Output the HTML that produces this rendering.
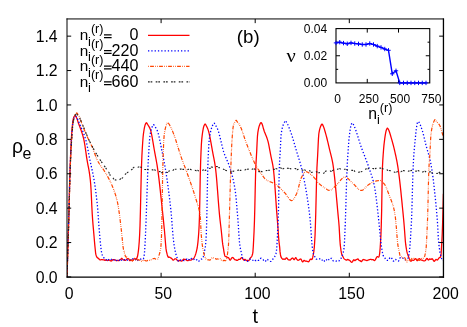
<!DOCTYPE html>
<html><head><meta charset="utf-8"><title>plot</title>
<style>html,body{margin:0;padding:0;background:#fff;overflow:hidden}body{width:467px;height:327px;position:relative;font-family:"Liberation Sans",sans-serif}</style>
</head><body>
<svg width="467" height="327" viewBox="0 0 467 327" style="position:absolute;left:0;top:0;will-change:transform">
<rect width="467" height="327" fill="#fff"/>
<defs><clipPath id="c"><rect x="67.00" y="18.95" width="377.00" height="258.00"/></clipPath></defs>
<g clip-path="url(#c)" fill="none" stroke-linejoin="round">
<path d="M67.00 276.95L67.38 265.01L67.75 252.87L68.13 239.95L68.51 226.86L68.88 213.18L69.26 198.07L69.63 183.13L70.01 170.31L70.39 159.89L70.76 150.95L71.14 143.48L71.52 136.66L71.89 130.82L72.27 126.45L72.65 123.16L73.02 120.41L73.40 118.45L73.78 117.40L74.15 116.60L74.53 116.00L74.90 115.66L75.28 115.67L75.66 116.06L76.03 116.71L76.41 117.47L76.79 118.26L77.16 119.25L77.54 120.40L77.92 121.58L78.29 122.70L78.67 123.76L79.04 124.79L79.42 125.79L79.80 126.79L80.17 127.78L80.55 128.79L80.93 129.81L81.30 130.87L81.68 131.97L82.06 133.12L82.43 134.33L82.81 135.62L83.19 136.99L83.56 138.46L83.94 140.04L84.31 141.87L84.69 144.05L85.07 146.49L85.44 149.09L85.82 151.78L86.20 154.46L86.57 157.04L86.95 159.44L87.33 161.60L87.70 163.60L88.08 165.53L88.45 167.47L88.83 169.49L89.21 171.70L89.58 174.16L89.96 176.97L90.34 180.20L90.71 184.25L91.09 190.55L91.47 198.32L91.84 206.43L92.22 213.75L92.60 219.37L92.97 224.11L93.35 228.42L93.72 232.64L94.10 237.07L94.48 241.50L94.85 245.64L95.23 249.21L95.61 253.05L95.98 254.74L96.36 255.98L96.74 256.91L97.11 257.52L97.49 257.88L97.86 258.04L98.24 258.13L98.62 258.46L98.99 259.00L99.37 259.51L99.75 259.77L100.12 259.80L100.50 259.78L100.88 259.76L101.25 259.70L101.63 259.58L102.01 259.53L102.38 259.61L102.76 259.78L103.13 259.92L103.51 259.93L103.89 259.86L104.26 259.89L104.64 260.12L105.02 260.38L105.39 260.35L105.77 260.05L106.15 259.81L106.52 259.90L106.90 260.20L107.27 260.45L107.65 260.52L108.03 260.42L108.40 260.23L108.78 260.06L109.16 260.01L109.53 260.14L109.91 260.39L110.29 260.67L110.66 260.88L111.04 260.99L111.42 260.95L111.79 260.71L112.17 260.31L112.54 259.87L112.92 259.58L113.30 259.52L113.67 259.59L114.05 259.69L114.43 259.76L114.80 259.82L115.18 259.94L115.56 260.13L115.93 260.39L116.31 260.64L116.68 260.75L117.06 260.64L117.44 260.40L117.81 260.29L118.19 260.42L118.57 260.64L118.94 260.67L119.32 260.45L119.70 260.12L120.07 259.83L120.45 259.53L120.83 259.12L121.20 258.65L121.58 258.35L121.95 258.41L122.33 258.82L122.71 259.33L123.08 259.70L123.46 259.87L123.84 259.97L124.21 260.10L124.59 260.28L124.97 260.41L125.34 260.41L125.72 260.23L126.09 259.85L126.47 259.35L126.85 258.94L127.22 258.72L127.60 258.61L127.98 258.54L128.35 258.63L128.73 259.06L129.11 259.76L129.48 260.39L129.86 260.70L130.24 260.64L130.61 260.32L130.99 259.99L131.36 259.94L131.74 260.25L132.12 260.66L132.49 260.80L132.87 260.52L133.25 260.00L133.62 259.49L134.00 259.07L134.38 258.73L134.75 258.53L135.13 258.65L135.50 259.06L135.88 259.35L136.26 259.26L136.63 258.73L137.01 257.88L137.39 256.81L137.76 255.10L138.14 252.77L138.52 249.90L138.89 245.99L139.27 241.19L139.65 234.46L140.02 225.56L140.40 211.76L140.77 195.15L141.15 178.57L141.53 164.87L141.90 156.05L142.28 148.87L142.66 142.74L143.03 137.80L143.41 134.19L143.79 131.47L144.16 129.12L144.54 127.15L144.91 125.58L145.29 124.43L145.67 123.61L146.04 122.94L146.42 122.67L146.80 122.99L147.17 123.69L147.55 124.36L147.93 124.94L148.30 125.50L148.68 126.08L149.06 126.70L149.43 127.38L149.81 128.15L150.18 129.03L150.56 130.13L150.94 131.49L151.31 133.09L151.69 134.89L152.07 136.85L152.44 138.93L152.82 141.11L153.20 143.34L153.57 145.59L153.95 147.82L154.32 149.99L154.70 152.08L155.08 154.09L155.45 156.07L155.83 158.07L156.21 160.12L156.58 162.24L156.96 164.46L157.34 166.83L157.71 169.36L158.09 172.07L158.47 174.94L158.84 177.94L159.22 181.08L159.59 184.32L159.97 187.66L160.35 191.09L160.72 194.58L161.10 198.12L161.48 201.69L161.85 205.29L162.23 208.90L162.61 212.49L162.98 216.06L163.36 219.68L163.73 223.40L164.11 227.19L164.49 231.03L164.86 235.30L165.24 240.02L165.62 244.59L165.99 248.39L166.37 251.07L166.75 252.65L167.12 254.17L167.50 255.56L167.88 256.62L168.25 257.19L168.63 257.32L169.00 257.22L169.38 257.14L169.76 257.27L170.13 257.56L170.51 257.85L170.89 258.01L171.26 258.11L171.64 258.35L172.02 258.85L172.39 259.45L172.77 259.94L173.14 260.16L173.52 260.09L173.90 259.79L174.27 259.38L174.65 259.03L175.03 258.82L175.40 258.76L175.78 258.83L176.16 259.04L176.53 259.42L176.91 259.92L177.29 260.40L177.66 260.76L178.04 260.97L178.41 261.01L178.79 260.87L179.17 260.60L179.54 260.37L179.92 260.36L180.30 260.56L180.67 260.81L181.05 261.00L181.43 261.09L181.80 261.07L182.18 260.85L182.55 260.39L182.93 259.78L183.31 259.26L183.68 259.05L184.06 259.17L184.44 259.45L184.81 259.61L185.19 259.57L185.57 259.45L185.94 259.48L186.32 259.79L186.70 260.23L187.07 260.58L187.45 260.73L187.82 260.72L188.20 260.58L188.58 260.33L188.95 260.05L189.33 259.90L189.71 259.92L190.08 260.01L190.46 260.06L190.84 260.05L191.21 260.01L191.59 259.85L191.96 259.57L192.34 259.26L192.72 258.96L193.09 258.72L193.47 258.48L193.85 258.10L194.22 257.54L194.60 256.78L194.98 255.89L195.35 254.94L195.73 253.90L196.11 252.61L196.48 251.05L196.86 249.30L197.23 247.74L197.61 244.96L197.99 241.57L198.36 237.56L198.74 232.72L199.12 225.69L199.49 216.06L199.87 198.03L200.25 175.95L200.62 162.39L201.00 152.36L201.37 144.52L201.75 139.35L202.13 135.93L202.50 132.99L202.88 130.53L203.26 128.52L203.63 126.95L204.01 125.81L204.39 124.98L204.76 124.31L205.14 124.04L205.52 124.36L205.89 125.05L206.27 125.75L206.64 126.44L207.02 127.17L207.40 127.97L207.77 128.87L208.15 129.89L208.53 131.08L208.90 132.47L209.28 134.04L209.66 135.76L210.03 137.61L210.41 139.56L210.78 141.59L211.16 143.68L211.54 145.80L211.91 147.93L212.29 150.03L212.67 152.10L213.04 154.10L213.42 156.02L213.80 157.93L214.17 159.89L214.55 161.97L214.93 164.22L215.30 166.72L215.68 169.56L216.05 172.98L216.43 176.93L216.81 181.30L217.18 185.96L217.56 190.82L217.94 195.76L218.31 200.68L218.69 205.45L219.07 209.98L219.44 214.15L219.82 217.87L220.19 221.28L220.57 224.51L220.95 227.72L221.32 231.03L221.70 234.71L222.08 238.60L222.45 242.19L222.83 244.96L223.21 247.10L223.58 249.13L223.96 251.81L224.34 253.84L224.71 255.41L225.09 256.32L225.46 256.61L225.84 256.55L226.22 256.48L226.59 256.77L226.97 257.27L227.35 257.65L227.72 257.72L228.10 257.62L228.48 257.70L228.85 258.17L229.23 258.91L229.60 259.64L229.98 260.05L230.36 260.02L230.73 259.59L231.11 258.93L231.49 258.28L231.86 257.79L232.24 257.52L232.62 257.47L232.99 257.64L233.37 258.00L233.75 258.48L234.12 258.99L234.50 259.41L234.87 259.68L235.25 259.81L235.63 259.87L236.00 259.95L236.38 260.13L236.76 260.35L237.13 260.47L237.51 260.35L237.89 260.00L238.26 259.61L238.64 259.37L239.01 259.34L239.39 259.43L239.77 259.45L240.14 259.23L240.52 258.78L240.90 258.23L241.27 257.79L241.65 257.61L242.03 257.74L242.40 258.14L242.78 258.76L243.16 259.46L243.53 259.96L243.91 260.05L244.28 259.78L244.66 259.46L245.04 259.37L245.41 259.59L245.79 259.98L246.17 260.38L246.54 260.60L246.92 260.58L247.30 260.41L247.67 260.28L248.05 260.35L248.42 260.55L248.80 260.56L249.18 260.16L249.55 259.45L249.93 258.66L250.31 258.02L250.68 257.62L251.06 257.31L251.44 256.89L251.81 256.19L252.19 255.22L252.57 253.96L252.94 251.79L253.32 246.19L253.69 239.07L254.07 231.28L254.45 221.31L254.82 207.70L255.20 189.95L255.58 173.75L255.95 164.11L256.33 157.96L256.71 151.13L257.08 142.94L257.46 136.06L257.83 132.68L258.21 130.36L258.59 128.46L258.96 126.91L259.34 125.67L259.72 124.67L260.09 123.84L260.47 123.08L260.85 122.57L261.22 122.57L261.60 123.09L261.98 123.85L262.35 124.73L262.73 125.95L263.10 127.36L263.48 128.79L263.86 130.06L264.23 131.16L264.61 132.16L264.99 133.11L265.36 134.03L265.74 134.93L266.12 135.84L266.49 136.78L266.87 137.79L267.24 138.88L267.62 140.08L268.00 141.42L268.37 142.97L268.75 144.70L269.13 146.57L269.50 148.54L269.88 150.56L270.26 152.60L270.63 154.61L271.01 156.55L271.39 158.35L271.76 160.04L272.14 161.74L272.51 163.57L272.89 165.64L273.27 168.07L273.64 171.14L274.02 174.95L274.40 179.37L274.77 184.27L275.15 189.50L275.53 194.94L275.90 200.45L276.28 205.90L276.65 211.15L277.03 216.06L277.41 220.66L277.78 225.35L278.16 230.85L278.54 236.56L278.91 241.00L279.29 244.21L279.67 247.15L280.04 251.64L280.42 254.38L280.80 256.32L281.17 257.41L281.55 257.98L281.92 258.43L282.30 258.83L282.68 259.16L283.05 259.30L283.43 259.20L283.81 259.01L284.18 258.99L284.56 259.19L284.94 259.36L285.31 259.18L285.69 258.66L286.06 258.11L286.44 257.81L286.82 257.89L287.19 258.31L287.57 258.93L287.95 259.53L288.32 259.84L288.70 259.87L289.08 259.85L289.45 259.96L289.83 260.10L290.21 260.04L290.58 259.71L290.96 259.25L291.33 258.80L291.71 258.43L292.09 258.13L292.46 257.99L292.84 258.15L293.22 258.64L293.59 259.27L293.97 259.68L294.35 259.62L294.72 259.05L295.10 258.28L295.47 257.74L295.85 257.73L296.23 258.20L296.60 258.87L296.98 259.50L297.36 259.94L297.73 260.17L298.11 260.25L298.49 260.23L298.86 260.10L299.24 259.83L299.62 259.48L299.99 259.18L300.37 259.01L300.74 259.04L301.12 259.34L301.50 259.98L301.87 260.84L302.25 261.61L302.63 261.94L303.00 261.69L303.38 261.07L303.76 260.53L304.13 260.38L304.51 260.57L304.88 260.88L305.26 261.10L305.64 261.21L306.01 261.24L306.39 261.20L306.77 261.17L307.14 261.26L307.52 261.49L307.90 261.71L308.27 261.79L308.65 261.68L309.03 261.35L309.40 260.75L309.78 259.96L310.15 259.28L310.53 259.03L310.91 259.16L311.28 259.45L311.66 259.57L312.04 259.34L312.41 258.58L312.79 257.19L313.17 255.34L313.54 253.16L313.92 250.78L314.29 247.34L314.67 242.07L315.05 235.33L315.42 224.78L315.80 211.65L316.18 195.74L316.55 179.96L316.93 168.07L317.31 161.14L317.68 154.78L318.06 146.69L318.44 138.90L318.81 134.02L319.19 131.70L319.56 129.83L319.94 128.34L320.32 127.16L320.69 126.20L321.07 125.39L321.45 124.63L321.82 124.12L322.20 124.12L322.58 124.65L322.95 125.40L323.33 126.19L323.70 127.13L324.08 128.22L324.46 129.42L324.83 130.70L325.21 132.02L325.59 133.36L325.96 134.68L326.34 136.06L326.72 137.51L327.09 139.00L327.47 140.54L327.85 142.11L328.22 143.70L328.60 145.31L328.97 146.92L329.35 148.53L329.73 150.11L330.10 151.63L330.48 153.11L330.86 154.58L331.23 156.09L331.61 157.67L331.99 159.36L332.36 161.19L332.74 163.20L333.11 165.45L333.49 168.05L333.87 170.97L334.24 174.18L334.62 177.64L335.00 181.32L335.37 185.18L335.75 189.18L336.13 193.28L336.50 197.45L336.88 201.65L337.26 205.85L337.63 210.00L338.01 214.07L338.38 218.01L338.76 221.99L339.14 226.66L339.51 233.25L339.89 240.17L340.27 244.96L340.64 247.72L341.02 250.66L341.40 252.95L341.77 254.46L342.15 255.36L342.52 255.98L342.90 256.54L343.28 257.28L343.65 258.02L344.03 258.61L344.41 259.00L344.78 259.25L345.16 259.45L345.54 259.68L345.91 259.92L346.29 260.11L346.67 260.12L347.04 259.92L347.42 259.61L347.79 259.45L348.17 259.57L348.55 259.87L348.92 260.08L349.30 260.16L349.68 260.32L350.05 260.71L350.43 261.23L350.81 261.70L351.18 262.04L351.56 262.24L351.93 262.26L352.31 261.99L352.69 261.40L353.06 260.63L353.44 260.00L353.82 259.77L354.19 259.97L354.57 260.36L354.95 260.58L355.32 260.42L355.70 260.01L356.08 259.64L356.45 259.50L356.83 259.49L357.20 259.35L357.58 259.07L357.96 258.91L358.33 259.18L358.71 259.81L359.09 260.40L359.46 260.63L359.84 260.62L360.22 260.71L360.59 261.07L360.97 261.53L361.34 261.71L361.72 261.40L362.10 260.78L362.47 260.19L362.85 259.83L363.23 259.61L363.60 259.50L363.98 259.55L364.36 259.74L364.73 259.96L365.11 260.07L365.49 260.12L365.86 260.22L366.24 260.38L366.61 260.53L366.99 260.57L367.37 260.46L367.74 260.27L368.12 260.07L368.50 259.93L368.87 259.82L369.25 259.72L369.63 259.60L370.00 259.49L370.38 259.41L370.75 259.38L371.13 259.46L371.51 259.62L371.88 259.75L372.26 259.71L372.64 259.56L373.01 259.53L373.39 259.77L373.77 260.18L374.14 260.50L374.52 260.55L374.90 260.29L375.27 259.79L375.65 259.13L376.02 258.40L376.40 257.68L376.78 257.07L377.15 256.65L377.53 256.57L377.91 256.81L378.28 257.14L378.66 257.16L379.04 256.52L379.41 255.18L379.79 252.21L380.16 248.01L380.54 242.27L380.92 235.34L381.29 224.89L381.67 209.69L382.05 186.10L382.42 168.07L382.80 160.35L383.18 154.83L383.55 149.71L383.93 145.38L384.31 142.11L384.68 139.15L385.06 136.43L385.43 134.04L385.81 132.04L386.19 130.51L386.56 129.51L386.94 128.74L387.32 128.24L387.69 128.25L388.07 128.78L388.45 129.53L388.82 130.31L389.20 131.24L389.57 132.32L389.95 133.50L390.33 134.75L390.70 136.04L391.08 137.33L391.46 138.61L391.83 139.91L392.21 141.24L392.59 142.60L392.96 144.00L393.34 145.44L393.72 146.92L394.09 148.44L394.47 150.00L394.84 151.62L395.22 153.28L395.60 154.99L395.97 156.74L396.35 158.56L396.73 160.46L397.10 162.47L397.48 164.60L397.86 166.88L398.23 169.32L398.61 171.97L398.98 174.83L399.36 177.86L399.74 181.05L400.11 184.39L400.49 187.86L400.87 191.43L401.24 195.09L401.62 198.83L402.00 202.62L402.37 206.45L402.75 210.30L403.13 214.14L403.50 218.02L403.88 222.14L404.25 226.47L404.63 231.46L405.01 236.72L405.38 241.47L405.76 244.96L406.14 247.46L406.51 249.71L406.89 251.66L407.27 253.14L407.64 254.25L408.02 255.22L408.39 256.18L408.77 257.20L409.15 258.25L409.52 259.17L409.90 259.93L410.28 260.58L410.65 261.05L411.03 261.18L411.41 260.97L411.78 260.57L412.16 260.23L412.54 260.11L412.91 260.17L413.29 260.27L413.66 260.27L414.04 260.09L414.42 259.68L414.79 259.15L415.17 258.71L415.55 258.53L415.92 258.75L416.30 259.34L416.68 260.09L417.05 260.64L417.43 260.71L417.80 260.34L418.18 259.76L418.56 259.20L418.93 258.82L419.31 258.69L419.69 258.82L420.06 259.14L420.44 259.53L420.82 259.85L421.19 260.02L421.57 260.06L421.95 260.10L422.32 260.22L422.70 260.43L423.07 260.63L423.45 260.77L423.83 260.84L424.20 260.86L424.58 260.84L424.96 260.75L425.33 260.50L425.71 260.01L426.09 259.35L426.46 258.75L426.84 258.44L427.21 258.53L427.59 258.99L427.97 259.60L428.34 259.99L428.72 259.92L429.10 259.48L429.47 259.02L429.85 258.84L430.23 259.03L430.60 259.36L430.98 259.47L431.36 259.21L431.73 258.81L432.11 258.66L432.48 258.95L432.86 259.54L433.24 260.21L433.61 260.80L433.99 261.21L434.37 261.29L434.74 260.99L435.12 260.43L435.50 259.86L435.87 259.49L436.25 259.47L436.62 259.71L437.00 259.98L437.38 260.03L437.75 259.74L438.13 259.20L438.51 258.63L438.88 258.12L439.26 257.72L439.64 257.46L440.01 257.31L440.39 257.11L440.77 256.31L441.14 253.40L441.52 246.41L441.89 241.00L442.27 233.08L442.65 222.09L443.02 209.22L443.40 193.70" stroke="#ff0000" stroke-width="1.28"/>
<path d="M67.00 276.95L67.38 264.66L67.75 252.26L68.13 239.95L68.51 226.86L68.88 213.14L69.26 197.84L69.63 182.82L70.01 170.31L70.39 160.64L70.76 152.44L71.14 145.41L71.52 138.90L71.89 133.04L72.27 128.28L72.65 124.86L73.02 121.99L73.40 119.74L73.78 118.37L74.15 117.58L74.53 116.91L74.90 116.43L75.28 116.17L75.66 116.17L76.03 116.46L76.41 116.96L76.79 117.57L77.16 118.19L77.54 118.90L77.92 119.77L78.29 120.72L78.67 121.68L79.04 122.60L79.42 123.49L79.80 124.37L80.17 125.23L80.55 126.08L80.93 126.94L81.30 127.79L81.68 128.66L82.06 129.53L82.43 130.42L82.81 131.34L83.19 132.28L83.56 133.25L83.94 134.26L84.31 135.32L84.69 136.42L85.07 137.57L85.44 138.77L85.82 140.04L86.20 141.43L86.57 142.99L86.95 144.68L87.33 146.50L87.70 148.40L88.08 150.36L88.45 152.35L88.83 154.36L89.21 156.35L89.58 158.29L89.96 160.16L90.34 161.96L90.71 163.69L91.09 165.39L91.47 167.08L91.84 168.77L92.22 170.50L92.60 172.27L92.97 174.11L93.35 176.05L93.72 178.10L94.10 180.29L94.48 182.59L94.85 185.01L95.23 187.55L95.61 190.23L95.98 193.07L96.36 196.09L96.74 199.32L97.11 202.75L97.49 206.43L97.86 210.85L98.24 216.13L98.62 221.71L98.99 227.03L99.37 231.57L99.75 235.88L100.12 240.12L100.50 244.06L100.88 247.49L101.25 250.55L101.63 252.63L102.01 254.23L102.38 255.41L102.76 256.24L103.13 256.81L103.51 257.28L103.89 257.75L104.26 258.32L104.64 258.87L105.02 259.19L105.39 259.30L105.77 259.40L106.15 259.70L106.52 260.17L106.90 260.66L107.27 260.98L107.65 260.95L108.03 260.55L108.40 259.96L108.78 259.43L109.16 259.14L109.53 259.06L109.91 258.98L110.29 258.87L110.66 258.86L111.04 259.12L111.42 259.60L111.79 260.08L112.17 260.35L112.54 260.42L112.92 260.39L113.30 260.35L113.67 260.23L114.05 259.95L114.43 259.58L114.80 259.32L115.18 259.32L115.56 259.59L115.93 259.98L116.31 260.31L116.68 260.45L117.06 260.37L117.44 260.12L117.81 259.77L118.19 259.46L118.57 259.39L118.94 259.67L119.32 260.22L119.70 260.81L120.07 261.20L120.45 261.25L120.83 261.00L121.20 260.53L121.58 259.98L121.95 259.52L122.33 259.25L122.71 259.25L123.08 259.46L123.46 259.68L123.84 259.78L124.21 259.77L124.59 259.76L124.97 259.89L125.34 260.17L125.72 260.43L126.09 260.46L126.47 260.24L126.85 260.02L127.22 259.99L127.60 260.11L127.98 260.11L128.35 259.81L128.73 259.35L129.11 259.03L129.48 259.07L129.86 259.43L130.24 259.85L130.61 260.07L130.99 260.00L131.36 259.77L131.74 259.51L132.12 259.21L132.49 258.94L132.87 258.85L133.25 259.07L133.62 259.48L134.00 259.87L134.38 260.07L134.75 260.05L135.13 259.87L135.50 259.67L135.88 259.64L136.26 259.91L136.63 260.44L137.01 260.91L137.39 260.96L137.76 260.53L138.14 259.93L138.52 259.50L138.89 259.31L139.27 259.24L139.65 259.22L140.02 259.22L140.40 259.20L140.77 259.08L141.15 258.86L141.53 258.65L141.90 258.55L142.28 258.57L142.66 258.73L143.03 258.87L143.41 258.76L143.79 257.66L144.16 255.27L144.54 251.98L144.91 246.88L145.29 239.27L145.67 230.51L146.04 221.21L146.42 210.64L146.80 199.40L147.17 188.10L147.55 177.36L147.93 167.79L148.30 159.99L148.68 153.35L149.06 147.10L149.43 141.58L149.81 137.15L150.18 134.19L150.56 132.24L150.94 130.60L151.31 129.23L151.69 128.09L152.07 127.12L152.44 126.30L152.82 125.53L153.20 124.85L153.57 124.56L153.95 124.89L154.32 125.59L154.70 126.25L155.08 126.82L155.45 127.38L155.83 127.94L156.21 128.54L156.58 129.19L156.96 129.92L157.34 130.75L157.71 131.74L158.09 132.93L158.47 134.30L158.84 135.81L159.22 137.45L159.59 139.19L159.97 141.01L160.35 142.89L160.72 144.80L161.10 146.71L161.48 148.62L161.85 150.48L162.23 152.29L162.61 154.10L162.98 155.93L163.36 157.78L163.73 159.69L164.11 161.66L164.49 163.70L164.86 165.84L165.24 168.07L165.62 170.39L165.99 172.73L166.37 175.12L166.75 177.56L167.12 180.07L167.50 182.64L167.88 185.30L168.25 188.04L168.63 190.87L169.00 193.81L169.38 196.86L169.76 200.04L170.13 203.34L170.51 206.79L170.89 210.38L171.26 214.13L171.64 218.24L172.02 223.46L172.39 228.75L172.77 233.08L173.14 237.03L173.52 240.63L173.90 243.69L174.27 246.12L174.65 248.37L175.03 250.13L175.40 252.07L175.78 253.63L176.16 254.97L176.53 256.19L176.91 257.29L177.29 258.39L177.66 259.57L178.04 260.55L178.41 261.00L178.79 260.85L179.17 260.32L179.54 259.89L179.92 259.81L180.30 259.95L180.67 260.12L181.05 260.22L181.43 260.19L181.80 260.05L182.18 259.87L182.55 259.78L182.93 259.87L183.31 260.15L183.68 260.48L184.06 260.64L184.44 260.51L184.81 260.23L185.19 260.02L185.57 259.92L185.94 259.79L186.32 259.51L186.70 259.16L187.07 258.98L187.45 259.18L187.82 259.66L188.20 260.07L188.58 260.09L188.95 259.66L189.33 259.02L189.71 258.42L190.08 258.04L190.46 257.94L190.84 258.14L191.21 258.48L191.59 258.76L191.96 258.84L192.34 258.69L192.72 258.46L193.09 258.38L193.47 258.63L193.85 259.14L194.22 259.72L194.60 260.15L194.98 260.33L195.35 260.29L195.73 260.11L196.11 259.89L196.48 259.77L196.86 259.91L197.23 260.36L197.61 260.98L197.99 261.47L198.36 261.58L198.74 261.31L199.12 260.90L199.49 260.59L199.87 260.34L200.25 260.00L200.62 259.60L201.00 259.26L201.37 259.07L201.75 259.03L202.13 258.95L202.50 258.59L202.88 257.89L203.26 256.92L203.63 255.61L204.01 253.90L204.39 251.87L204.76 249.76L205.14 248.60L205.52 245.41L205.89 241.05L206.27 235.33L206.64 223.70L207.02 207.09L207.40 185.23L207.77 168.07L208.15 158.01L208.53 149.67L208.90 143.36L209.28 139.35L209.66 136.77L210.03 134.50L210.41 132.53L210.78 130.82L211.16 129.34L211.54 128.07L211.91 126.96L212.29 126.00L212.67 125.14L213.04 124.37L213.42 123.61L213.80 123.09L214.17 123.10L214.55 123.67L214.93 124.40L215.30 125.00L215.68 125.59L216.05 126.19L216.43 126.82L216.81 127.49L217.18 128.22L217.56 129.03L217.94 129.96L218.31 131.04L218.69 132.25L219.07 133.56L219.44 134.97L219.82 136.45L220.19 137.98L220.57 139.56L220.95 141.16L221.32 142.76L221.70 144.35L222.08 145.91L222.45 147.42L222.83 148.87L223.21 150.23L223.58 151.49L223.96 152.64L224.34 153.72L224.71 154.74L225.09 155.71L225.46 156.64L225.84 157.54L226.22 158.42L226.59 159.28L226.97 160.15L227.35 161.02L227.72 161.90L228.10 162.82L228.48 163.76L228.85 164.75L229.23 165.79L229.60 166.90L229.98 168.07L230.36 169.29L230.73 170.52L231.11 171.76L231.49 173.05L231.86 174.38L232.24 175.78L232.62 177.25L232.99 178.81L233.37 180.48L233.75 182.25L234.12 184.16L234.50 186.21L234.87 188.41L235.25 190.84L235.63 193.86L236.00 197.41L236.38 201.40L236.76 205.69L237.13 210.19L237.51 214.77L237.89 219.33L238.26 224.46L238.64 230.35L239.01 236.22L239.39 241.34L239.77 244.96L240.14 247.47L240.52 249.09L240.90 250.84L241.27 252.56L241.65 254.33L242.03 256.10L242.40 257.60L242.78 258.60L243.16 259.18L243.53 259.48L243.91 259.69L244.28 259.97L244.66 260.27L245.04 260.53L245.41 260.71L245.79 260.83L246.17 261.02L246.54 261.28L246.92 261.46L247.30 261.43L247.67 261.18L248.05 260.82L248.42 260.41L248.80 259.96L249.18 259.52L249.55 259.20L249.93 259.10L250.31 259.22L250.68 259.51L251.06 259.89L251.44 260.25L251.81 260.45L252.19 260.48L252.57 260.39L252.94 260.25L253.32 260.03L253.69 259.70L254.07 259.43L254.45 259.48L254.82 259.87L255.20 260.34L255.58 260.57L255.95 260.49L256.33 260.23L256.71 259.94L257.08 259.79L257.46 259.87L257.83 260.11L258.21 260.34L258.59 260.43L258.96 260.36L259.34 260.14L259.72 259.71L260.09 259.12L260.47 258.56L260.85 258.25L261.22 258.25L261.60 258.43L261.98 258.64L262.35 258.87L262.73 259.20L263.10 259.66L263.48 260.18L263.86 260.68L264.23 261.12L264.61 261.44L264.99 261.55L265.36 261.40L265.74 261.01L266.12 260.44L266.49 259.79L266.87 259.29L267.24 259.17L267.62 259.45L268.00 259.90L268.37 260.24L268.75 260.41L269.13 260.55L269.50 260.77L269.88 261.05L270.26 261.32L270.63 261.46L271.01 261.32L271.39 260.86L271.76 260.26L272.14 259.75L272.51 259.41L272.89 259.13L273.27 258.75L273.64 258.20L274.02 257.64L274.40 257.16L274.77 256.59L275.15 255.78L275.53 254.85L275.90 253.80L276.28 252.46L276.65 249.12L277.03 243.63L277.41 236.41L277.78 228.79L278.16 221.08L278.54 208.22L278.91 185.79L279.29 168.07L279.67 160.27L280.04 154.51L280.42 147.61L280.80 139.43L281.17 134.02L281.55 131.63L281.92 129.62L282.30 127.93L282.68 126.53L283.05 125.35L283.43 124.35L283.81 123.49L284.18 122.71L284.56 121.96L284.94 121.21L285.31 120.68L285.69 120.69L286.06 121.24L286.44 121.98L286.82 122.66L287.19 123.39L287.57 124.16L287.95 124.98L288.32 125.84L288.70 126.74L289.08 127.66L289.45 128.62L289.83 129.60L290.21 130.60L290.58 131.61L290.96 132.65L291.33 133.72L291.71 134.84L292.09 136.01L292.46 137.21L292.84 138.44L293.22 139.70L293.59 140.98L293.97 142.27L294.35 143.58L294.72 144.89L295.10 146.21L295.47 147.52L295.85 148.82L296.23 150.12L296.60 151.39L296.98 152.64L297.36 153.85L297.73 155.05L298.11 156.23L298.49 157.42L298.86 158.61L299.24 159.83L299.62 161.07L299.99 162.35L300.37 163.69L300.74 165.08L301.12 166.54L301.50 168.07L301.87 169.67L302.25 171.29L302.63 172.94L303.00 174.64L303.38 176.37L303.76 178.14L304.13 179.97L304.51 181.85L304.88 183.79L305.26 185.78L305.64 187.85L306.01 189.98L306.39 192.19L306.77 194.47L307.14 196.84L307.52 199.30L307.90 201.84L308.27 204.48L308.65 207.22L309.03 210.06L309.40 213.00L309.78 216.06L310.15 219.77L310.53 224.21L310.91 229.23L311.28 235.18L311.66 240.85L312.04 244.96L312.41 247.75L312.79 250.97L313.17 252.86L313.54 254.20L313.92 255.15L314.29 255.82L314.67 256.45L315.05 257.25L315.42 258.13L315.80 258.84L316.18 259.19L316.55 259.20L316.93 259.06L317.31 258.91L317.68 258.78L318.06 258.66L318.44 258.60L318.81 258.59L319.19 258.62L319.56 258.75L319.94 259.05L320.32 259.52L320.69 260.03L321.07 260.40L321.45 260.50L321.82 260.35L322.20 260.06L322.58 259.72L322.95 259.43L323.33 259.40L323.70 259.76L324.08 260.42L324.46 261.10L324.83 261.53L325.21 261.59L325.59 261.32L325.96 260.85L326.34 260.26L326.72 259.61L327.09 259.01L327.47 258.66L327.85 258.66L328.22 258.96L328.60 259.39L328.97 259.79L329.35 260.03L329.73 260.02L330.10 259.73L330.48 259.24L330.86 258.69L331.23 258.30L331.61 258.28L331.99 258.74L332.36 259.50L332.74 260.25L333.11 260.76L333.49 260.98L333.87 261.00L334.24 260.92L334.62 260.87L335.00 260.93L335.37 261.08L335.75 261.16L336.13 261.08L336.50 260.88L336.88 260.72L337.26 260.74L337.63 260.93L338.01 261.15L338.38 261.24L338.76 261.10L339.14 260.70L339.51 260.07L339.89 259.37L340.27 258.79L340.64 258.46L341.02 258.32L341.40 258.05L341.77 257.30L342.15 256.14L342.52 254.86L342.90 253.62L343.28 252.31L343.65 250.70L344.03 248.74L344.41 243.72L344.78 235.66L345.16 226.75L345.54 216.06L345.91 203.90L346.29 190.51L346.67 177.91L347.04 168.07L347.42 161.35L347.79 155.84L348.17 150.22L348.55 144.46L348.92 139.87L349.30 136.41L349.68 133.20L350.05 130.34L350.43 127.90L350.81 125.96L351.18 124.62L351.56 123.77L351.93 123.11L352.31 122.84L352.69 123.15L353.06 123.84L353.44 124.56L353.82 125.32L354.19 126.17L354.57 127.09L354.95 128.06L355.32 129.06L355.70 130.06L356.08 131.09L356.45 132.17L356.83 133.28L357.20 134.43L357.58 135.61L357.96 136.82L358.33 138.03L358.71 139.25L359.09 140.47L359.46 141.69L359.84 142.89L360.22 144.07L360.59 145.23L360.97 146.35L361.34 147.43L361.72 148.48L362.10 149.50L362.47 150.49L362.85 151.47L363.23 152.43L363.60 153.39L363.98 154.34L364.36 155.29L364.73 156.24L365.11 157.20L365.49 158.17L365.86 159.15L366.24 160.16L366.61 161.18L366.99 162.20L367.37 163.23L367.74 164.27L368.12 165.32L368.50 166.40L368.87 167.51L369.25 168.64L369.63 169.75L370.00 170.83L370.38 171.91L370.75 172.99L371.13 174.09L371.51 175.21L371.88 176.38L372.26 177.60L372.64 178.88L373.01 180.24L373.39 181.69L373.77 183.24L374.14 184.91L374.52 186.73L374.90 188.83L375.27 191.21L375.65 193.83L376.02 196.67L376.40 199.67L376.78 202.81L377.15 206.06L377.53 209.37L377.91 212.72L378.28 216.06L378.66 219.62L379.04 223.43L379.41 227.32L379.79 231.51L380.16 235.69L380.54 239.43L380.92 242.45L381.29 245.33L381.67 248.07L382.05 250.05L382.42 252.45L382.80 254.39L383.18 255.58L383.55 256.20L383.93 256.61L384.31 256.99L384.68 257.51L385.06 258.18L385.43 258.87L385.81 259.46L386.19 259.95L386.56 260.29L386.94 260.43L387.32 260.41L387.69 260.39L388.07 260.36L388.45 260.15L388.82 259.63L389.20 258.91L389.57 258.21L389.95 257.65L390.33 257.30L390.70 257.19L391.08 257.38L391.46 257.81L391.83 258.41L392.21 259.12L392.59 259.88L392.96 260.57L393.34 261.03L393.72 261.12L394.09 260.80L394.47 260.20L394.84 259.62L395.22 259.32L395.60 259.41L395.97 259.76L396.35 260.15L396.73 260.40L397.10 260.53L397.48 260.68L397.86 260.93L398.23 261.12L398.61 260.95L398.98 260.27L399.36 259.29L399.74 258.37L400.11 257.81L400.49 257.68L400.87 257.83L401.24 258.03L401.62 258.07L402.00 257.92L402.37 257.79L402.75 257.93L403.13 258.41L403.50 259.02L403.88 259.53L404.25 259.87L404.63 260.02L405.01 259.96L405.38 259.74L405.76 259.52L406.14 259.41L406.51 259.36L406.89 259.27L407.27 259.10L407.64 258.72L408.02 258.00L408.39 256.88L408.77 255.28L409.15 253.17L409.52 250.59L409.90 246.98L410.28 241.57L410.65 235.33L411.03 229.30L411.41 222.49L411.78 213.48L412.16 200.44L412.54 185.92L412.91 172.98L413.29 164.14L413.66 157.60L414.04 152.27L414.42 147.64L414.79 143.55L415.17 139.87L415.55 136.23L415.92 132.56L416.30 129.12L416.68 126.18L417.05 123.99L417.43 122.79L417.80 122.02L418.18 121.53L418.56 121.55L418.93 122.09L419.31 122.83L419.69 123.55L420.06 124.36L420.44 125.26L420.82 126.23L421.19 127.27L421.57 128.36L421.95 129.49L422.32 130.66L422.70 131.93L423.07 133.30L423.45 134.75L423.83 136.25L424.20 137.80L424.58 139.38L424.96 140.96L425.33 142.52L425.71 144.06L426.09 145.54L426.46 146.95L426.84 148.30L427.21 149.59L427.59 150.86L427.97 152.12L428.34 153.40L428.72 154.71L429.10 156.07L429.47 157.51L429.85 159.04L430.23 160.69L430.60 162.48L430.98 164.42L431.36 166.53L431.73 168.81L432.11 171.25L432.48 173.85L432.86 176.60L433.24 179.51L433.61 182.56L433.99 185.75L434.37 189.09L434.74 192.56L435.12 196.17L435.50 199.90L435.87 203.76L436.25 207.75L436.62 211.85L437.00 216.06L437.38 221.01L437.75 226.97L438.13 234.75L438.51 241.00L438.88 244.63L439.26 247.72L439.64 250.16L440.01 252.51L440.39 254.30L440.77 255.73L441.14 257.11L441.52 258.43L441.89 259.52L442.27 260.24L442.65 260.54L443.02 260.50L443.40 260.24" stroke="#0000ff" stroke-width="1.3" stroke-dasharray="1.3 2.0"/>
<path d="M67.00 276.95L67.38 264.63L67.75 253.02L68.13 241.87L68.51 229.58L68.88 216.97L69.26 203.09L69.63 188.84L70.01 175.84L70.39 165.36L70.76 156.41L71.14 148.78L71.52 142.20L71.89 136.04L72.27 130.63L72.65 126.34L73.02 123.35L73.40 120.77L73.78 118.55L74.15 116.79L74.53 115.61L74.90 115.06L75.28 114.78L75.66 114.50L76.03 113.97L76.41 113.23L76.79 112.86L77.16 113.20L77.54 113.91L77.92 114.54L78.29 115.04L78.67 115.54L79.04 116.13L79.42 116.91L79.80 117.86L80.17 118.92L80.55 120.03L80.93 121.13L81.30 122.15L81.68 123.11L82.06 124.06L82.43 125.01L82.81 125.96L83.19 126.90L83.56 127.84L83.94 128.77L84.31 129.69L84.69 130.61L85.07 131.52L85.44 132.42L85.82 133.32L86.20 134.21L86.57 135.09L86.95 135.96L87.33 136.82L87.70 137.67L88.08 138.52L88.45 139.35L88.83 140.16L89.21 140.94L89.58 141.70L89.96 142.45L90.34 143.19L90.71 143.93L91.09 144.69L91.47 145.46L91.84 146.26L92.22 147.09L92.60 147.97L92.97 148.90L93.35 149.88L93.72 150.89L94.10 151.92L94.48 152.96L94.85 154.00L95.23 155.04L95.61 156.05L95.98 157.04L96.36 157.99L96.74 158.89L97.11 159.73L97.49 160.51L97.86 161.22L98.24 161.91L98.62 162.57L98.99 163.20L99.37 163.80L99.75 164.39L100.12 164.95L100.50 165.50L100.88 166.04L101.25 166.57L101.63 167.10L102.01 167.62L102.38 168.14L102.76 168.66L103.13 169.18L103.51 169.72L103.89 170.26L104.26 170.82L104.64 171.39L105.02 171.98L105.39 172.60L105.77 173.23L106.15 173.89L106.52 174.54L106.90 175.20L107.27 175.86L107.65 176.53L108.03 177.21L108.40 177.89L108.78 178.60L109.16 179.31L109.53 180.04L109.91 180.79L110.29 181.57L110.66 182.36L111.04 183.18L111.42 184.02L111.79 184.89L112.17 185.79L112.54 186.71L112.92 187.64L113.30 188.59L113.67 189.56L114.05 190.56L114.43 191.60L114.80 192.69L115.18 193.83L115.56 195.03L115.93 196.29L116.31 197.63L116.68 199.05L117.06 200.55L117.44 202.15L117.81 203.88L118.19 205.91L118.57 208.23L118.94 210.80L119.32 213.56L119.70 216.49L120.07 219.54L120.45 222.66L120.83 225.81L121.20 228.96L121.58 232.14L121.95 235.79L122.33 239.67L122.71 243.46L123.08 246.82L123.46 249.43L123.84 249.93L124.21 251.72L124.59 253.48L124.97 255.03L125.34 256.14L125.72 256.80L126.09 257.12L126.47 257.13L126.85 257.04L127.22 257.16L127.60 257.63L127.98 258.29L128.35 258.87L128.73 259.23L129.11 259.36L129.48 259.33L129.86 259.20L130.24 259.06L130.61 259.05L130.99 259.28L131.36 259.76L131.74 260.32L132.12 260.76L132.49 260.84L132.87 260.51L133.25 259.87L133.62 259.19L134.00 258.65L134.38 258.39L134.75 258.46L135.13 258.88L135.50 259.51L135.88 260.14L136.26 260.52L136.63 260.58L137.01 260.34L137.39 259.94L137.76 259.60L138.14 259.50L138.52 259.64L138.89 259.89L139.27 260.08L139.65 260.16L140.02 260.18L140.40 260.22L140.77 260.38L141.15 260.67L141.53 261.03L141.90 261.32L142.28 261.35L142.66 261.03L143.03 260.51L143.41 260.09L143.79 259.99L144.16 260.16L144.54 260.39L144.91 260.54L145.29 260.63L145.67 260.77L146.04 260.93L146.42 261.01L146.80 260.91L147.17 260.68L147.55 260.42L147.93 260.21L148.30 260.11L148.68 260.16L149.06 260.28L149.43 260.28L149.81 260.06L150.18 259.74L150.56 259.58L150.94 259.67L151.31 259.80L151.69 259.68L152.07 259.31L152.44 258.92L152.82 258.73L153.20 258.67L153.57 258.60L153.95 258.48L154.32 258.44L154.70 258.56L155.08 258.78L155.45 259.01L155.83 259.16L156.21 259.18L156.58 259.14L156.96 259.14L157.34 259.16L157.71 258.96L158.09 258.30L158.47 257.20L158.84 255.90L159.22 254.64L159.59 253.50L159.97 252.29L160.35 250.29L160.72 248.48L161.10 244.27L161.48 236.58L161.85 223.13L162.23 199.93L162.61 176.39L162.98 161.74L163.36 150.21L163.73 141.21L164.11 135.91L164.49 133.11L164.86 130.77L165.24 128.85L165.62 127.27L165.99 125.99L166.37 124.94L166.75 124.07L167.12 123.28L167.50 122.61L167.88 122.32L168.25 122.64L168.63 123.34L169.00 124.03L169.38 124.67L169.76 125.33L170.13 126.02L170.51 126.74L170.89 127.48L171.26 128.25L171.64 129.06L172.02 129.89L172.39 130.76L172.77 131.67L173.14 132.63L173.52 133.61L173.90 134.63L174.27 135.69L174.65 136.77L175.03 137.87L175.40 139.00L175.78 140.14L176.16 141.31L176.53 142.48L176.91 143.67L177.29 144.87L177.66 146.07L178.04 147.28L178.41 148.49L178.79 149.69L179.17 150.89L179.54 152.09L179.92 153.27L180.30 154.44L180.67 155.59L181.05 156.72L181.43 157.84L181.80 158.92L182.18 159.99L182.55 161.02L182.93 162.02L183.31 163.01L183.68 163.97L184.06 164.93L184.44 165.89L184.81 166.84L185.19 167.81L185.57 168.79L185.94 169.80L186.32 170.83L186.70 171.86L187.07 172.90L187.45 173.94L187.82 174.98L188.20 176.02L188.58 177.07L188.95 178.12L189.33 179.18L189.71 180.25L190.08 181.31L190.46 182.39L190.84 183.47L191.21 184.56L191.59 185.65L191.96 186.76L192.34 187.87L192.72 188.99L193.09 190.12L193.47 191.26L193.85 192.41L194.22 193.57L194.60 194.74L194.98 195.92L195.35 197.11L195.73 198.32L196.11 199.54L196.48 200.77L196.86 202.02L197.23 203.26L197.61 204.46L197.99 205.65L198.36 206.89L198.74 208.26L199.12 209.80L199.49 211.59L199.87 213.67L200.25 216.53L200.62 222.06L201.00 231.03L201.37 236.13L201.75 240.24L202.13 243.54L202.50 246.30L202.88 248.91L203.26 250.80L203.63 252.59L204.01 254.05L204.39 255.24L204.76 256.22L205.14 257.19L205.52 258.20L205.89 258.91L206.27 259.19L206.64 259.23L207.02 259.32L207.40 259.57L207.77 259.84L208.15 259.96L208.53 259.92L208.90 259.87L209.28 259.95L209.66 260.09L210.03 260.04L210.41 259.71L210.78 259.24L211.16 258.80L211.54 258.40L211.91 258.00L212.29 257.68L212.67 257.55L213.04 257.64L213.42 257.88L213.80 258.18L214.17 258.43L214.55 258.53L214.93 258.55L215.30 258.63L215.68 258.84L216.05 259.08L216.43 259.17L216.81 259.12L217.18 259.02L217.56 258.96L217.94 258.99L218.31 259.07L218.69 259.09L219.07 258.95L219.44 258.73L219.82 258.64L220.19 258.75L220.57 259.03L220.95 259.42L221.32 259.91L221.70 260.44L222.08 260.85L222.45 261.00L222.83 260.91L223.21 260.66L223.58 260.41L223.96 260.29L224.34 260.37L224.71 260.58L225.09 260.74L225.46 260.74L225.84 260.50L226.22 259.97L226.59 258.86L226.97 257.22L227.35 255.04L227.72 252.25L228.10 248.68L228.48 244.96L228.85 236.27L229.23 222.66L229.60 209.68L229.98 195.94L230.36 182.27L230.73 170.31L231.11 159.85L231.49 150.22L231.86 142.34L232.24 136.79L232.62 132.07L232.99 128.20L233.37 125.52L233.75 124.20L234.12 123.37L234.50 122.76L234.87 122.23L235.25 121.64L235.63 120.91L236.00 120.35L236.38 120.35L236.76 120.95L237.13 121.66L237.51 122.17L237.89 122.60L238.26 123.01L238.64 123.44L239.01 123.93L239.39 124.52L239.77 125.19L240.14 125.94L240.52 126.76L240.90 127.64L241.27 128.58L241.65 129.57L242.03 130.60L242.40 131.66L242.78 132.76L243.16 133.87L243.53 135.00L243.91 136.13L244.28 137.27L244.66 138.39L245.04 139.50L245.41 140.59L245.79 141.65L246.17 142.67L246.54 143.65L246.92 144.61L247.30 145.56L247.67 146.52L248.05 147.47L248.42 148.42L248.80 149.37L249.18 150.31L249.55 151.25L249.93 152.18L250.31 153.10L250.68 154.02L251.06 154.93L251.44 155.83L251.81 156.72L252.19 157.60L252.57 158.47L252.94 159.32L253.32 160.16L253.69 161.00L254.07 161.83L254.45 162.64L254.82 163.45L255.20 164.22L255.58 164.97L255.95 165.67L256.33 166.34L256.71 166.97L257.08 167.58L257.46 168.16L257.83 168.73L258.21 169.28L258.59 169.82L258.96 170.36L259.34 170.89L259.72 171.42L260.09 171.96L260.47 172.51L260.85 173.07L261.22 173.64L261.60 174.21L261.98 174.79L262.35 175.35L262.73 175.91L263.10 176.45L263.48 176.97L263.86 177.47L264.23 177.94L264.61 178.37L264.99 178.77L265.36 179.12L265.74 179.43L266.12 179.70L266.49 179.95L266.87 180.19L267.24 180.41L267.62 180.62L268.00 180.82L268.37 181.00L268.75 181.18L269.13 181.34L269.50 181.50L269.88 181.66L270.26 181.81L270.63 181.96L271.01 182.10L271.39 182.25L271.76 182.40L272.14 182.55L272.51 182.70L272.89 182.86L273.27 183.03L273.64 183.20L274.02 183.38L274.40 183.58L274.77 183.79L275.15 184.01L275.53 184.24L275.90 184.49L276.28 184.76L276.65 185.04L277.03 185.33L277.41 185.63L277.78 185.94L278.16 186.27L278.54 186.60L278.91 186.95L279.29 187.30L279.67 187.66L280.04 188.02L280.42 188.39L280.80 188.77L281.17 189.15L281.55 189.53L281.92 189.92L282.30 190.31L282.68 190.70L283.05 191.09L283.43 191.48L283.81 191.87L284.18 192.26L284.56 192.65L284.94 193.04L285.31 193.47L285.69 193.94L286.06 194.45L286.44 194.98L286.82 195.53L287.19 196.09L287.57 196.64L287.95 197.19L288.32 197.73L288.70 198.24L289.08 198.73L289.45 199.17L289.83 199.57L290.21 199.91L290.58 200.19L290.96 200.40L291.33 200.54L291.71 200.58L292.09 200.52L292.46 200.34L292.84 200.05L293.22 199.66L293.59 199.19L293.97 198.65L294.35 198.04L294.72 197.38L295.10 196.68L295.47 195.95L295.85 195.21L296.23 194.45L296.60 193.70L296.98 192.84L297.36 191.78L297.73 190.55L298.11 189.18L298.49 187.73L298.86 186.22L299.24 184.70L299.62 183.20L299.99 181.76L300.37 180.42L300.74 179.22L301.12 178.18L301.50 177.36L301.87 176.66L302.25 175.95L302.63 175.25L303.00 174.58L303.38 173.95L303.76 173.37L304.13 172.86L304.51 172.42L304.88 172.08L305.26 171.83L305.64 171.70L306.01 171.69L306.39 171.74L306.77 171.83L307.14 171.95L307.52 172.11L307.90 172.31L308.27 172.53L308.65 172.77L309.03 173.04L309.40 173.32L309.78 173.62L310.15 173.92L310.53 174.23L310.91 174.55L311.28 174.86L311.66 175.17L312.04 175.47L312.41 175.78L312.79 176.13L313.17 176.50L313.54 176.90L313.92 177.32L314.29 177.77L314.67 178.22L315.05 178.69L315.42 179.17L315.80 179.65L316.18 180.14L316.55 180.63L316.93 181.11L317.31 181.58L317.68 182.04L318.06 182.49L318.44 182.92L318.81 183.33L319.19 183.72L319.56 184.07L319.94 184.40L320.32 184.72L320.69 185.03L321.07 185.33L321.45 185.62L321.82 185.90L322.20 186.17L322.58 186.44L322.95 186.70L323.33 186.95L323.70 187.20L324.08 187.44L324.46 187.68L324.83 187.91L325.21 188.14L325.59 188.39L325.96 188.66L326.34 188.92L326.72 189.19L327.09 189.45L327.47 189.69L327.85 189.91L328.22 190.10L328.60 190.26L328.97 190.37L329.35 190.43L329.73 190.43L330.10 190.37L330.48 190.25L330.86 190.08L331.23 189.87L331.61 189.62L331.99 189.33L332.36 189.01L332.74 188.67L333.11 188.30L333.49 187.93L333.87 187.54L334.24 187.14L334.62 186.75L335.00 186.36L335.37 185.98L335.75 185.61L336.13 185.27L336.50 184.94L336.88 184.58L337.26 184.20L337.63 183.79L338.01 183.36L338.38 182.92L338.76 182.46L339.14 181.99L339.51 181.52L339.89 181.06L340.27 180.59L340.64 180.14L341.02 179.70L341.40 179.28L341.77 178.88L342.15 178.51L342.52 178.17L342.90 177.86L343.28 177.60L343.65 177.38L344.03 177.21L344.41 177.09L344.78 177.03L345.16 177.03L345.54 177.08L345.91 177.19L346.29 177.35L346.67 177.54L347.04 177.78L347.42 178.06L347.79 178.36L348.17 178.69L348.55 179.05L348.92 179.42L349.30 179.81L349.68 180.20L350.05 180.60L350.43 181.01L350.81 181.40L351.18 181.80L351.56 182.18L351.93 182.54L352.31 182.89L352.69 183.21L353.06 183.53L353.44 183.88L353.82 184.24L354.19 184.63L354.57 185.03L354.95 185.44L355.32 185.85L355.70 186.27L356.08 186.69L356.45 187.10L356.83 187.51L357.20 187.90L357.58 188.28L357.96 188.64L358.33 188.98L358.71 189.29L359.09 189.57L359.46 189.82L359.84 190.03L360.22 190.20L360.59 190.33L360.97 190.41L361.34 190.43L361.72 190.40L362.10 190.30L362.47 190.14L362.85 189.93L363.23 189.67L363.60 189.38L363.98 189.05L364.36 188.70L364.73 188.32L365.11 187.93L365.49 187.54L365.86 187.14L366.24 186.75L366.61 186.37L366.99 186.01L367.37 185.67L367.74 185.37L368.12 185.10L368.50 184.85L368.87 184.60L369.25 184.35L369.63 184.09L370.00 183.84L370.38 183.59L370.75 183.34L371.13 183.10L371.51 182.87L371.88 182.64L372.26 182.42L372.64 182.22L373.01 182.03L373.39 181.85L373.77 181.69L374.14 181.55L374.52 181.42L374.90 181.32L375.27 181.23L375.65 181.13L376.02 181.04L376.40 180.96L376.78 180.88L377.15 180.80L377.53 180.73L377.91 180.66L378.28 180.60L378.66 180.55L379.04 180.51L379.41 180.48L379.79 180.46L380.16 180.46L380.54 180.50L380.92 180.62L381.29 180.82L381.67 181.08L382.05 181.40L382.42 181.76L382.80 182.16L383.18 182.60L383.55 183.06L383.93 183.53L384.31 184.00L384.68 184.49L385.06 185.08L385.43 185.75L385.81 186.52L386.19 187.35L386.56 188.25L386.94 189.19L387.32 190.18L387.69 191.19L388.07 192.22L388.45 193.25L388.82 194.27L389.20 195.27L389.57 196.25L389.95 197.20L390.33 198.14L390.70 199.07L391.08 200.03L391.46 201.00L391.83 202.02L392.21 203.09L392.59 204.23L392.96 205.44L393.34 206.74L393.72 208.15L394.09 209.71L394.47 211.52L394.84 213.61L395.22 216.06L395.60 219.33L395.97 223.32L396.35 227.48L396.73 232.32L397.10 237.32L397.48 241.77L397.86 244.96L398.23 247.16L398.61 249.14L398.98 250.58L399.36 252.74L399.74 254.50L400.11 255.69L400.49 256.33L400.87 256.63L401.24 256.83L401.62 257.03L402.00 257.32L402.37 257.70L402.75 258.06L403.13 258.24L403.50 258.19L403.88 257.97L404.25 257.73L404.63 257.72L405.01 258.11L405.38 258.89L405.76 259.89L406.14 260.93L406.51 261.74L406.89 262.00L407.27 261.63L407.64 260.89L408.02 260.28L408.39 260.12L408.77 260.29L409.15 260.50L409.52 260.57L409.90 260.49L410.28 260.28L410.65 259.97L411.03 259.55L411.41 259.06L411.78 258.59L412.16 258.25L412.54 258.07L412.91 258.02L413.29 258.05L413.66 258.20L414.04 258.50L414.42 258.81L414.79 258.99L415.17 259.01L415.55 258.97L415.92 259.01L416.30 259.16L416.68 259.30L417.05 259.32L417.43 259.29L417.80 259.38L418.18 259.66L418.56 260.06L418.93 260.36L419.31 260.42L419.69 260.20L420.06 259.86L420.44 259.53L420.82 259.21L421.19 258.84L421.57 258.49L421.95 258.32L422.32 258.38L422.70 258.45L423.07 258.33L423.45 258.04L423.83 257.73L424.20 257.37L424.58 256.53L424.96 255.18L425.33 253.43L425.71 251.26L426.09 248.74L426.46 243.36L426.84 235.41L427.21 227.46L427.59 218.47L427.97 204.70L428.34 187.78L428.72 173.00L429.10 164.76L429.47 159.83L429.85 154.83L430.23 147.40L430.60 139.34L430.98 134.02L431.36 131.39L431.73 129.14L432.11 127.24L432.48 125.62L432.86 124.27L433.24 123.12L433.61 122.15L433.99 121.31L434.37 120.53L434.74 119.86L435.12 119.57L435.50 119.92L435.87 120.63L436.25 121.24L436.62 121.70L437.00 122.12L437.38 122.50L437.75 122.88L438.13 123.26L438.51 123.67L438.88 124.13L439.26 124.65L439.64 125.25L440.01 126.01L440.39 126.98L440.77 128.10L441.14 129.34L441.52 130.64L441.89 131.96L442.27 133.26L442.65 134.48L443.02 135.60L443.40 136.69" stroke="#ff4500" stroke-width="1.2" stroke-dasharray="3.8 1.3 0.7 1.1 0.7 1.4" stroke-dashoffset="6.9"/>
<path d="M67.00 276.95L67.38 265.58L67.75 253.88L68.13 241.87L68.51 229.58L68.88 216.97L69.26 203.09L69.63 188.84L70.01 175.84L70.39 165.36L70.76 156.41L71.14 148.78L71.52 142.19L71.89 135.99L72.27 130.56L72.65 126.30L73.02 123.41L73.40 121.01L73.78 118.96L74.15 117.32L74.53 116.17L74.90 115.48L75.28 114.92L75.66 114.45L76.03 114.11L76.41 113.92L76.79 114.00L77.16 114.61L77.54 115.31L77.92 115.74L78.29 116.07L78.67 116.40L79.04 116.82L79.42 117.40L79.80 118.13L80.17 118.97L80.55 119.88L80.93 120.81L81.30 121.72L81.68 122.58L82.06 123.45L82.43 124.33L82.81 125.23L83.19 126.14L83.56 127.06L83.94 127.99L84.31 128.93L84.69 129.86L85.07 130.80L85.44 131.73L85.82 132.66L86.20 133.58L86.57 134.50L86.95 135.40L87.33 136.28L87.70 137.16L88.08 138.01L88.45 138.84L88.83 139.64L89.21 140.43L89.58 141.20L89.96 141.96L90.34 142.71L90.71 143.46L91.09 144.20L91.47 144.92L91.84 145.64L92.22 146.36L92.60 147.06L92.97 147.76L93.35 148.45L93.72 149.13L94.10 149.81L94.48 150.48L94.85 151.14L95.23 151.80L95.61 152.45L95.98 153.10L96.36 153.73L96.74 154.37L97.11 155.00L97.49 155.62L97.86 156.24L98.24 156.86L98.62 157.46L98.99 158.06L99.37 158.65L99.75 159.23L100.12 159.81L100.50 160.37L100.88 160.94L101.25 161.50L101.63 162.05L102.01 162.60L102.38 163.14L102.76 163.69L103.13 164.23L103.51 164.77L103.89 165.31L104.26 165.84L104.64 166.38L105.02 166.92L105.39 167.46L105.77 168.00L106.15 168.57L106.52 169.14L106.90 169.74L107.27 170.34L107.65 170.95L108.03 171.57L108.40 172.18L108.78 172.26L109.16 172.96L109.53 173.76L109.91 174.66L110.29 175.58L110.66 176.37L111.04 176.89L111.42 177.16L111.79 177.29L112.17 177.43L112.54 177.66L112.92 177.98L113.30 178.38L113.67 178.80L114.05 179.20L114.43 179.52L114.80 179.72L115.18 179.83L115.56 179.93L115.93 180.07L116.31 180.24L116.68 180.40L117.06 180.49L117.44 180.48L117.81 180.40L118.19 180.29L118.57 180.18L118.94 180.07L119.32 179.90L119.70 179.63L120.07 179.25L120.45 178.84L120.83 178.53L121.20 178.39L121.58 178.36L121.95 178.28L122.33 178.01L122.71 177.60L123.08 177.17L123.46 176.74L123.84 176.25L124.21 175.68L124.59 175.11L124.97 174.60L125.34 174.19L125.72 173.87L126.09 173.62L126.47 173.36L126.85 173.05L127.22 172.71L127.60 172.40L127.98 172.14L128.35 171.90L128.73 171.57L129.11 171.18L129.48 170.82L129.86 170.56L130.24 170.39L130.61 170.24L130.99 170.04L131.36 169.79L131.74 169.53L132.12 169.23L132.49 168.86L132.87 168.39L133.25 167.90L133.62 167.54L134.00 167.33L134.38 167.22L134.75 167.11L135.13 166.98L135.50 166.92L135.88 166.96L136.26 167.08L136.63 167.18L137.01 167.25L137.39 167.29L137.76 167.29L138.14 167.23L138.52 167.08L138.89 166.94L139.27 166.87L139.65 166.87L140.02 166.94L140.40 167.05L140.77 167.18L141.15 167.30L141.53 167.35L141.90 167.36L142.28 167.43L142.66 167.69L143.03 168.16L143.41 168.71L143.79 169.16L144.16 169.41L144.54 169.48L144.91 169.47L145.29 169.47L145.67 169.54L146.04 169.64L146.42 169.70L146.80 169.64L147.17 169.52L147.55 169.44L147.93 169.47L148.30 169.63L148.68 169.84L149.06 169.99L149.43 170.00L149.81 169.86L150.18 169.67L150.56 169.53L150.94 169.50L151.31 169.55L151.69 169.64L152.07 169.74L152.44 169.84L152.82 169.88L153.20 169.83L153.57 169.73L153.95 169.66L154.32 169.71L154.70 169.89L155.08 170.11L155.45 170.30L155.83 170.40L156.21 170.45L156.58 170.53L156.96 170.69L157.34 170.92L157.71 171.17L158.09 171.38L158.47 171.53L158.84 171.58L159.22 171.53L159.59 171.51L159.97 171.65L160.35 171.96L160.72 172.31L161.10 172.54L161.48 172.61L161.85 172.56L162.23 172.49L162.61 172.42L162.98 172.38L163.36 172.39L163.73 172.45L164.11 172.52L164.49 172.52L164.86 172.43L165.24 172.32L165.62 172.25L165.99 172.26L166.37 172.33L166.75 172.43L167.12 172.51L167.50 172.52L167.88 172.38L168.25 172.04L168.63 171.56L169.00 171.06L169.38 170.72L169.76 170.64L170.13 170.80L170.51 171.07L170.89 171.31L171.26 171.39L171.64 171.31L172.02 171.12L172.39 170.87L172.77 170.56L173.14 170.18L173.52 169.77L173.90 169.46L174.27 169.30L174.65 169.25L175.03 169.25L175.40 169.24L175.78 169.23L176.16 169.23L176.53 169.26L176.91 169.31L177.29 169.37L177.66 169.45L178.04 169.50L178.41 169.50L178.79 169.44L179.17 169.34L179.54 169.24L179.92 169.14L180.30 169.07L180.67 169.07L181.05 169.12L181.43 169.18L181.80 169.25L182.18 169.30L182.55 169.33L182.93 169.36L183.31 169.37L183.68 169.40L184.06 169.46L184.44 169.58L184.81 169.74L185.19 169.85L185.57 169.86L185.94 169.79L186.32 169.72L186.70 169.70L187.07 169.69L187.45 169.63L187.82 169.50L188.20 169.36L188.58 169.26L188.95 169.23L189.33 169.26L189.71 169.30L190.08 169.33L190.46 169.40L190.84 169.54L191.21 169.74L191.59 169.90L191.96 169.97L192.34 170.00L192.72 170.08L193.09 170.25L193.47 170.42L193.85 170.49L194.22 170.46L194.60 170.39L194.98 170.37L195.35 170.43L195.73 170.54L196.11 170.61L196.48 170.57L196.86 170.42L197.23 170.28L197.61 170.28L197.99 170.44L198.36 170.67L198.74 170.82L199.12 170.84L199.49 170.76L199.87 170.68L200.25 170.62L200.62 170.59L201.00 170.57L201.37 170.59L201.75 170.61L202.13 170.54L202.50 170.37L202.88 170.14L203.26 169.96L203.63 169.88L204.01 169.92L204.39 170.07L204.76 170.25L205.14 170.39L205.52 170.33L205.89 170.03L206.27 169.57L206.64 169.15L207.02 168.91L207.40 168.81L207.77 168.73L208.15 168.60L208.53 168.47L208.90 168.42L209.28 168.46L209.66 168.48L210.03 168.34L210.41 167.97L210.78 167.50L211.16 167.15L211.54 167.04L211.91 167.09L212.29 167.15L212.67 167.09L213.04 166.90L213.42 166.66L213.80 166.48L214.17 166.42L214.55 166.47L214.93 166.57L215.30 166.64L215.68 166.64L216.05 166.59L216.43 166.54L216.81 166.52L217.18 166.61L217.56 166.84L217.94 167.14L218.31 167.41L218.69 167.59L219.07 167.68L219.44 167.71L219.82 167.71L220.19 167.69L220.57 167.69L220.95 167.71L221.32 167.75L221.70 167.82L222.08 167.93L222.45 168.13L222.83 168.46L223.21 168.84L223.58 169.16L223.96 169.40L224.34 169.59L224.71 169.79L225.09 170.01L225.46 170.21L225.84 170.36L226.22 170.48L226.59 170.58L226.97 170.68L227.35 170.78L227.72 170.91L228.10 171.08L228.48 171.28L228.85 171.49L229.23 171.69L229.60 171.85L229.98 171.95L230.36 171.96L230.73 171.89L231.11 171.79L231.49 171.69L231.86 171.60L232.24 171.50L232.62 171.42L232.99 171.34L233.37 171.23L233.75 171.13L234.12 171.08L234.50 171.13L234.87 171.24L235.25 171.34L235.63 171.38L236.00 171.31L236.38 171.14L236.76 170.89L237.13 170.62L237.51 170.38L237.89 170.21L238.26 170.11L238.64 170.08L239.01 170.10L239.39 170.20L239.77 170.37L240.14 170.54L240.52 170.54L240.90 170.33L241.27 170.02L241.65 169.79L242.03 169.71L242.40 169.73L242.78 169.78L243.16 169.80L243.53 169.78L243.91 169.76L244.28 169.77L244.66 169.81L245.04 169.82L245.41 169.73L245.79 169.54L246.17 169.32L246.54 169.18L246.92 169.14L247.30 169.19L247.67 169.22L248.05 169.14L248.42 168.94L248.80 168.66L249.18 168.40L249.55 168.23L249.93 168.19L250.31 168.24L250.68 168.37L251.06 168.54L251.44 168.75L251.81 168.95L252.19 169.09L252.57 169.09L252.94 168.94L253.32 168.71L253.69 168.54L254.07 168.57L254.45 168.82L254.82 169.22L255.20 169.66L255.58 170.05L255.95 170.38L256.33 170.61L256.71 170.75L257.08 170.83L257.46 170.92L257.83 171.06L258.21 171.24L258.59 171.44L258.96 171.61L259.34 171.69L259.72 171.63L260.09 171.49L260.47 171.39L260.85 171.38L261.22 171.44L261.60 171.53L261.98 171.61L262.35 171.67L262.73 171.69L263.10 171.63L263.48 171.50L263.86 171.35L264.23 171.25L264.61 171.15L264.99 171.03L265.36 170.86L265.74 170.71L266.12 170.61L266.49 170.55L266.87 170.51L267.24 170.48L267.62 170.45L268.00 170.43L268.37 170.39L268.75 170.34L269.13 170.29L269.50 170.27L269.88 170.27L270.26 170.18L270.63 169.94L271.01 169.66L271.39 169.52L271.76 169.55L272.14 169.62L272.51 169.61L272.89 169.52L273.27 169.44L273.64 169.40L274.02 169.34L274.40 169.21L274.77 169.03L275.15 168.83L275.53 168.68L275.90 168.63L276.28 168.70L276.65 168.80L277.03 168.85L277.41 168.85L277.78 168.88L278.16 168.97L278.54 168.98L278.91 168.78L279.29 168.40L279.67 168.02L280.04 167.79L280.42 167.75L280.80 167.89L281.17 168.17L281.55 168.49L281.92 168.74L282.30 168.83L282.68 168.79L283.05 168.69L283.43 168.58L283.81 168.46L284.18 168.27L284.56 168.00L284.94 167.70L285.31 167.46L285.69 167.38L286.06 167.48L286.44 167.71L286.82 167.95L287.19 168.15L287.57 168.28L287.95 168.34L288.32 168.38L288.70 168.41L289.08 168.45L289.45 168.48L289.83 168.53L290.21 168.62L290.58 168.74L290.96 168.86L291.33 168.94L291.71 168.94L292.09 168.83L292.46 168.65L292.84 168.48L293.22 168.39L293.59 168.38L293.97 168.42L294.35 168.46L294.72 168.50L295.10 168.53L295.47 168.59L295.85 168.74L296.23 169.02L296.60 169.34L296.98 169.58L297.36 169.66L297.73 169.56L298.11 169.38L298.49 169.29L298.86 169.36L299.24 169.54L299.62 169.72L299.99 169.83L300.37 169.88L300.74 169.93L301.12 170.01L301.50 170.10L301.87 170.14L302.25 170.15L302.63 170.12L303.00 170.07L303.38 169.97L303.76 169.83L304.13 169.77L304.51 169.86L304.88 170.08L305.26 170.25L305.64 170.25L306.01 170.09L306.39 169.91L306.77 169.86L307.14 169.97L307.52 170.17L307.90 170.36L308.27 170.50L308.65 170.59L309.03 170.64L309.40 170.70L309.78 170.82L310.15 171.09L310.53 171.50L310.91 171.93L311.28 172.24L311.66 172.35L312.04 172.31L312.41 172.23L312.79 172.22L313.17 172.31L313.54 172.45L313.92 172.55L314.29 172.56L314.67 172.50L315.05 172.37L315.42 172.15L315.80 171.92L316.18 171.77L316.55 171.81L316.93 172.00L317.31 172.24L317.68 172.46L318.06 172.61L318.44 172.70L318.81 172.74L319.19 172.70L319.56 172.62L319.94 172.52L320.32 172.46L320.69 172.46L321.07 172.54L321.45 172.65L321.82 172.78L322.20 172.93L322.58 173.12L322.95 173.29L323.33 173.35L323.70 173.22L324.08 172.89L324.46 172.43L324.83 171.94L325.21 171.51L325.59 171.20L325.96 171.08L326.34 171.12L326.72 171.25L327.09 171.37L327.47 171.39L327.85 171.34L328.22 171.28L328.60 171.27L328.97 171.26L329.35 171.18L329.73 171.05L330.10 171.01L330.48 171.12L330.86 171.29L331.23 171.38L331.61 171.30L331.99 171.07L332.36 170.76L332.74 170.45L333.11 170.17L333.49 169.93L333.87 169.75L334.24 169.63L334.62 169.54L335.00 169.43L335.37 169.30L335.75 169.20L336.13 169.19L336.50 169.25L336.88 169.30L337.26 169.28L337.63 169.18L338.01 168.99L338.38 168.77L338.76 168.56L339.14 168.44L339.51 168.46L339.89 168.63L340.27 168.89L340.64 169.15L341.02 169.38L341.40 169.54L341.77 169.54L342.15 169.37L342.52 169.13L342.90 168.95L343.28 168.93L343.65 169.01L344.03 169.12L344.41 169.21L344.78 169.26L345.16 169.29L345.54 169.28L345.91 169.27L346.29 169.30L346.67 169.44L347.04 169.71L347.42 169.98L347.79 170.15L348.17 170.20L348.55 170.18L348.92 170.12L349.30 170.02L349.68 169.92L350.05 169.85L350.43 169.84L350.81 169.90L351.18 170.05L351.56 170.23L351.93 170.34L352.31 170.36L352.69 170.36L353.06 170.39L353.44 170.45L353.82 170.54L354.19 170.73L354.57 171.09L354.95 171.54L355.32 171.94L355.70 172.14L356.08 172.17L356.45 172.17L356.83 172.26L357.20 172.43L357.58 172.58L357.96 172.60L358.33 172.48L358.71 172.30L359.09 172.11L359.46 171.95L359.84 171.83L360.22 171.76L360.59 171.73L360.97 171.72L361.34 171.67L361.72 171.54L362.10 171.35L362.47 171.15L362.85 170.97L363.23 170.80L363.60 170.62L363.98 170.41L364.36 170.17L364.73 169.88L365.11 169.58L365.49 169.28L365.86 169.03L366.24 168.91L366.61 168.96L366.99 169.11L367.37 169.19L367.74 169.07L368.12 168.79L368.50 168.45L368.87 168.19L369.25 168.09L369.63 168.15L370.00 168.27L370.38 168.36L370.75 168.38L371.13 168.38L371.51 168.40L371.88 168.43L372.26 168.45L372.64 168.46L373.01 168.50L373.39 168.58L373.77 168.67L374.14 168.72L374.52 168.70L374.90 168.66L375.27 168.59L375.65 168.47L376.02 168.22L376.40 167.86L376.78 167.52L377.15 167.37L377.53 167.48L377.91 167.76L378.28 168.00L378.66 168.13L379.04 168.17L379.41 168.18L379.79 168.19L380.16 168.18L380.54 168.14L380.92 168.08L381.29 168.06L381.67 168.12L382.05 168.29L382.42 168.53L382.80 168.74L383.18 168.84L383.55 168.82L383.93 168.75L384.31 168.69L384.68 168.70L385.06 168.80L385.43 168.98L385.81 169.20L386.19 169.41L386.56 169.57L386.94 169.74L387.32 169.95L387.69 170.20L388.07 170.42L388.45 170.53L388.82 170.52L389.20 170.46L389.57 170.47L389.95 170.61L390.33 170.84L390.70 171.08L391.08 171.25L391.46 171.34L391.83 171.35L392.21 171.31L392.59 171.25L392.96 171.25L393.34 171.37L393.72 171.59L394.09 171.87L394.47 172.12L394.84 172.28L395.22 172.32L395.60 172.26L395.97 172.16L396.35 172.05L396.73 171.95L397.10 171.82L397.48 171.63L397.86 171.36L398.23 171.06L398.61 170.80L398.98 170.69L399.36 170.77L399.74 171.03L400.11 171.35L400.49 171.58L400.87 171.64L401.24 171.54L401.62 171.35L402.00 171.14L402.37 170.94L402.75 170.75L403.13 170.61L403.50 170.56L403.88 170.63L404.25 170.82L404.63 171.04L405.01 171.13L405.38 171.05L405.76 170.84L406.14 170.67L406.51 170.62L406.89 170.69L407.27 170.80L407.64 170.91L408.02 171.02L408.39 171.09L408.77 171.06L409.15 170.91L409.52 170.75L409.90 170.65L410.28 170.64L410.65 170.65L411.03 170.62L411.41 170.52L411.78 170.40L412.16 170.32L412.54 170.28L412.91 170.25L413.29 170.26L413.66 170.34L414.04 170.51L414.42 170.72L414.79 170.94L415.17 171.10L415.55 171.18L415.92 171.16L416.30 171.10L416.68 171.00L417.05 170.88L417.43 170.74L417.80 170.62L418.18 170.61L418.56 170.70L418.93 170.86L419.31 170.97L419.69 170.95L420.06 170.78L420.44 170.58L420.82 170.51L421.19 170.69L421.57 171.09L421.95 171.52L422.32 171.81L422.70 171.88L423.07 171.80L423.45 171.67L423.83 171.52L424.20 171.33L424.58 171.18L424.96 171.20L425.33 171.42L425.71 171.76L426.09 172.09L426.46 172.28L426.84 172.27L427.21 172.08L427.59 171.82L427.97 171.58L428.34 171.47L428.72 171.54L429.10 171.71L429.47 171.86L429.85 171.89L430.23 171.84L430.60 171.87L430.98 172.07L431.36 172.39L431.73 172.70L432.11 172.92L432.48 173.01L432.86 172.97L433.24 172.83L433.61 172.70L433.99 172.68L434.37 172.79L434.74 172.98L435.12 173.14L435.50 173.24L435.87 173.32L436.25 173.42L436.62 173.50L437.00 173.50L437.38 173.36L437.75 173.11L438.13 172.84L438.51 172.64L438.88 172.50L439.26 172.42L439.64 172.41L440.01 172.54L440.39 172.82L440.77 173.17L441.14 173.45L441.52 173.57L441.89 173.53L442.27 173.40L442.65 173.28L443.02 173.27L443.40 173.42" stroke="#222" stroke-width="1.15" stroke-dasharray="1.7 0.9 1.7 3.4"/>
</g>
<g stroke="#000" stroke-width="1.05" fill="none">
<path d="M66.50 18.95H444.00" stroke-width="1.0"/>
<path d="M67.00 18.45V277.55" stroke-width="1.0"/>
<path d="M66.50 277.05H444.05" stroke-width="1.3"/>
<path d="M443.45 18.45V277.65" stroke-width="1.3"/>
<path d="M67.00 276.95h4.2M443.40 276.95h-4.2M67.00 242.55h4.2M443.40 242.55h-4.2M67.00 208.15h4.2M443.40 208.15h-4.2M67.00 173.75h4.2M443.40 173.75h-4.2M67.00 139.35h4.2M443.40 139.35h-4.2M67.00 104.95h4.2M443.40 104.95h-4.2M67.00 70.55h4.2M443.40 70.55h-4.2M67.00 36.15h4.2M443.40 36.15h-4.2M161.10 276.95v-4.2M161.10 18.95v4.2M255.20 276.95v-4.2M255.20 18.95v4.2M349.30 276.95v-4.2M349.30 18.95v4.2" stroke-width="1"/>
</g>
<rect x="336.00" y="28.60" width="93.75" height="54.30" fill="#fff" stroke="#000" stroke-width="1.1"/>
<path d="M336.00 69.33h2.2M429.75 69.33h-2.2M336.00 55.75h4.0M429.75 55.75h-4.0M336.00 42.18h2.2M429.75 42.18h-2.2M367.25 82.90v-4.0M367.25 28.60v4.0M398.50 82.90v-4.0M398.50 28.60v4.0" stroke="#000" stroke-width="1" fill="none"/>
<path d="M336.00 42.90L339.75 42.20L343.50 43.10L347.25 43.80L351.00 42.90L354.75 43.50L358.50 43.90L362.25 44.50L366.00 44.50L369.75 43.50L373.50 44.50L377.25 46.10L381.00 47.40L384.75 49.00L388.50 50.30L392.25 73.80L396.00 70.80L399.75 82.90L403.50 82.90L407.25 82.90L411.00 82.90L414.75 82.90L418.50 82.90L422.25 82.90L426.00 82.90" stroke="#0000ff" stroke-width="1.4" fill="none" stroke-linejoin="round"/>
<path d="M333.80 42.90h4.4M336.00 40.70v4.4M337.55 42.20h4.4M339.75 40.00v4.4M341.30 43.10h4.4M343.50 40.90v4.4M345.05 43.80h4.4M347.25 41.60v4.4M348.80 42.90h4.4M351.00 40.70v4.4M352.55 43.50h4.4M354.75 41.30v4.4M356.30 43.90h4.4M358.50 41.70v4.4M360.05 44.50h4.4M362.25 42.30v4.4M363.80 44.50h4.4M366.00 42.30v4.4M367.55 43.50h4.4M369.75 41.30v4.4M371.30 44.50h4.4M373.50 42.30v4.4M375.05 46.10h4.4M377.25 43.90v4.4M378.80 47.40h4.4M381.00 45.20v4.4M382.55 49.00h4.4M384.75 46.80v4.4M386.30 50.30h4.4M388.50 48.10v4.4M390.05 73.80h4.4M392.25 71.60v4.4M393.80 70.80h4.4M396.00 68.60v4.4M397.55 82.90h4.4M399.75 80.70v4.4M401.30 82.90h4.4M403.50 80.70v4.4M405.05 82.90h4.4M407.25 80.70v4.4M408.80 82.90h4.4M411.00 80.70v4.4M412.55 82.90h4.4M414.75 80.70v4.4M416.30 82.90h4.4M418.50 80.70v4.4M420.05 82.90h4.4M422.25 80.70v4.4M423.80 82.90h4.4M426.00 80.70v4.4" stroke="#0000ff" stroke-width="1" fill="none"/>
<path d="M148.0 35.3H189.5" stroke="#ff0000" stroke-width="1.28"/>
<path d="M148.0 50.8H189.5" stroke="#0000ff" stroke-width="1.3" stroke-dasharray="1.3 2.0"/>
<path d="M148.0 66.3H189.5" stroke="#ff4500" stroke-width="1.2" stroke-dasharray="3.8 1.3 0.7 1.1 0.7 1.4" stroke-dashoffset="6.9"/>
<path d="M148.0 81.9H189.5" stroke="#222" stroke-width="1.15" stroke-dasharray="1.7 0.9 1.7 3.4"/>
<text x="57.60" y="282.50" font-size="15.80" text-anchor="end" font-family="Liberation Sans, sans-serif" >0.0</text>
<text x="57.60" y="248.10" font-size="15.80" text-anchor="end" font-family="Liberation Sans, sans-serif" >0.2</text>
<text x="57.60" y="213.70" font-size="15.80" text-anchor="end" font-family="Liberation Sans, sans-serif" >0.4</text>
<text x="57.60" y="179.30" font-size="15.80" text-anchor="end" font-family="Liberation Sans, sans-serif" >0.6</text>
<text x="57.60" y="144.90" font-size="15.80" text-anchor="end" font-family="Liberation Sans, sans-serif" >0.8</text>
<text x="57.60" y="110.50" font-size="15.80" text-anchor="end" font-family="Liberation Sans, sans-serif" >1.0</text>
<text x="57.60" y="76.10" font-size="15.80" text-anchor="end" font-family="Liberation Sans, sans-serif" >1.2</text>
<text x="57.60" y="41.70" font-size="15.80" text-anchor="end" font-family="Liberation Sans, sans-serif" >1.4</text>
<text x="69.20" y="298.75" font-size="15.80" text-anchor="middle" font-family="Liberation Sans, sans-serif" >0</text>
<text x="163.30" y="298.75" font-size="15.80" text-anchor="middle" font-family="Liberation Sans, sans-serif" >50</text>
<text x="257.40" y="298.75" font-size="15.80" text-anchor="middle" font-family="Liberation Sans, sans-serif" >100</text>
<text x="351.50" y="298.75" font-size="15.80" text-anchor="middle" font-family="Liberation Sans, sans-serif" >150</text>
<text x="445.60" y="298.75" font-size="15.80" text-anchor="middle" font-family="Liberation Sans, sans-serif" >200</text>
<text x="255.30" y="322.60" font-size="20.00" text-anchor="middle" font-family="Liberation Sans, sans-serif" >t</text>
<text x="236.80" y="43.00" font-size="18.70" text-anchor="start" font-family="Liberation Sans, sans-serif" >(b)</text>
<text x="11.9" y="153.1" font-size="19.4" font-family="Liberation Sans, sans-serif">ρ</text>
<text x="22.4" y="159.2" font-size="16" font-family="Liberation Sans, sans-serif">e</text>
<text x="79.80" y="40.20" font-size="15.30" text-anchor="start" font-family="Liberation Sans, sans-serif" >n</text>
<text x="88.10" y="45.50" font-size="13.00" text-anchor="start" font-family="Liberation Sans, sans-serif" >i</text>
<text x="90.90" y="32.50" font-size="12.60" text-anchor="start" font-family="Liberation Sans, sans-serif" >(r)</text>
<path d="M104.0 34.90H111.6M104.0 37.70H111.6" stroke="#000" stroke-width="1.25" fill="none"/>
<text x="138.40" y="40.20" font-size="16.10" text-anchor="end" font-family="Liberation Sans, sans-serif" >0</text>
<text x="79.80" y="55.82" font-size="15.30" text-anchor="start" font-family="Liberation Sans, sans-serif" >n</text>
<text x="88.10" y="61.12" font-size="13.00" text-anchor="start" font-family="Liberation Sans, sans-serif" >i</text>
<text x="90.90" y="48.12" font-size="12.60" text-anchor="start" font-family="Liberation Sans, sans-serif" >(r)</text>
<path d="M104.0 50.52H111.6M104.0 53.32H111.6" stroke="#000" stroke-width="1.25" fill="none"/>
<text x="138.40" y="55.82" font-size="16.10" text-anchor="end" font-family="Liberation Sans, sans-serif" >220</text>
<text x="79.80" y="71.44" font-size="15.30" text-anchor="start" font-family="Liberation Sans, sans-serif" >n</text>
<text x="88.10" y="76.74" font-size="13.00" text-anchor="start" font-family="Liberation Sans, sans-serif" >i</text>
<text x="90.90" y="63.74" font-size="12.60" text-anchor="start" font-family="Liberation Sans, sans-serif" >(r)</text>
<path d="M104.0 66.14H111.6M104.0 68.94H111.6" stroke="#000" stroke-width="1.25" fill="none"/>
<text x="138.40" y="71.44" font-size="16.10" text-anchor="end" font-family="Liberation Sans, sans-serif" >440</text>
<text x="79.80" y="87.06" font-size="15.30" text-anchor="start" font-family="Liberation Sans, sans-serif" >n</text>
<text x="88.10" y="92.36" font-size="13.00" text-anchor="start" font-family="Liberation Sans, sans-serif" >i</text>
<text x="90.90" y="79.36" font-size="12.60" text-anchor="start" font-family="Liberation Sans, sans-serif" >(r)</text>
<path d="M104.0 81.76H111.6M104.0 84.56H111.6" stroke="#000" stroke-width="1.25" fill="none"/>
<text x="138.40" y="87.06" font-size="16.10" text-anchor="end" font-family="Liberation Sans, sans-serif" >660</text>
<text x="327.20" y="87.45" font-size="12.00" text-anchor="end" font-family="Liberation Sans, sans-serif" >0.00</text>
<text x="327.20" y="60.30" font-size="12.00" text-anchor="end" font-family="Liberation Sans, sans-serif" >0.02</text>
<text x="327.20" y="33.15" font-size="12.00" text-anchor="end" font-family="Liberation Sans, sans-serif" >0.04</text>
<text x="337.60" y="102.60" font-size="12.00" text-anchor="middle" font-family="Liberation Sans, sans-serif" >0</text>
<text x="368.85" y="102.60" font-size="12.00" text-anchor="middle" font-family="Liberation Sans, sans-serif" >250</text>
<text x="400.10" y="102.60" font-size="12.00" text-anchor="middle" font-family="Liberation Sans, sans-serif" >500</text>
<text x="431.35" y="102.60" font-size="12.00" text-anchor="middle" font-family="Liberation Sans, sans-serif" >750</text>
<text x="368.20" y="119.40" font-size="15.80" text-anchor="start" font-family="Liberation Sans, sans-serif" >n</text>
<text x="377.00" y="124.10" font-size="12.60" text-anchor="start" font-family="Liberation Sans, sans-serif" >i</text>
<text x="379.80" y="112.10" font-size="12.60" text-anchor="start" font-family="Liberation Sans, sans-serif" >(r)</text>
<text x="0" y="0" font-size="18.6" font-family="Liberation Serif, serif" transform="translate(286.4 61.7) scale(1.1 1)">ν</text>
</svg>
</body></html>
